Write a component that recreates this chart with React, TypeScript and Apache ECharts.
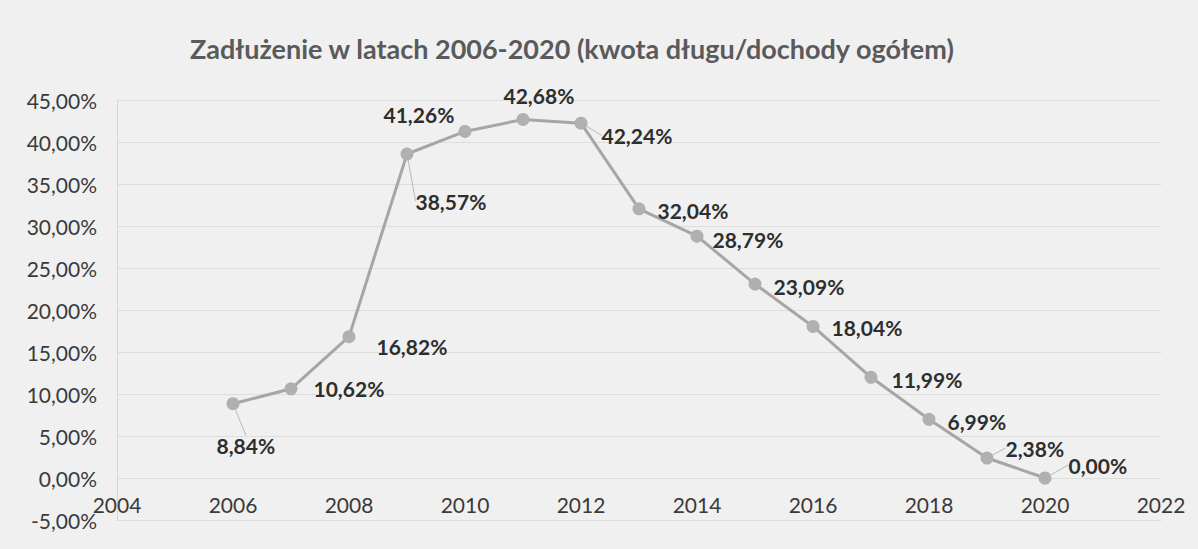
import React, { useEffect, useRef } from "react";
import * as echarts from "echarts";

const TITLE = "Zadłużenie w latach 2006-2020 (kwota długu/dochody ogółem)";
const YEARS = [2006, 2007, 2008, 2009, 2010, 2011, 2012, 2013, 2014, 2015, 2016, 2017, 2018, 2019, 2020];
const DEBT_RATIO = [8.84, 10.62, 16.82, 38.57, 41.26, 42.68, 42.24, 32.04, 28.79, 23.09, 18.04, 11.99, 6.99, 2.38, 0.0];
const LABEL_SHIFTS: [number, number][] = [
  [-35, 42], [4, 0], [9, 10], [-10, 47], [-100, -17], [-38, -24], [2, 12],
  [0, 2], [-3, 3], [0, 2], [0, 1], [2, 2], [0, 2], [0, -10], [5, -13],
];
const LEADER_LINES = [true, false, false, true, false, false, true, false, false, false, false, false, false, true, true];
const X_MIN = 2004;
const X_MAX = 2022;
const Y_MIN = -5;
const Y_MAX = 45;

const fmtPct = (v: number) => v.toFixed(2).replace(".", ",") + "%";

export default function App() {
  const ref = useRef<HTMLDivElement>(null);
  useEffect(() => {
    document.body.style.margin = "0";
    if (!ref.current) return;
    const chart = echarts.init(ref.current, undefined, { renderer: "svg" });
    const font = "Lato, 'Open Sans', sans-serif";
    chart.setOption({
      animation: false,
      backgroundColor: "#f0f0f0",
      title: {
        text: TITLE,
        left: 185,
        top: 30,
        textStyle: { fontFamily: font, fontSize: 27, fontWeight: "bold", color: "#5a5a5a" },
      },
      grid: { left: 117, right: 37, top: 100, bottom: 29 },
      xAxis: {
        type: "value",
        min: X_MIN,
        max: X_MAX,
        interval: 2,
        offset: -42,
        axisLine: { show: false },
        axisTick: { show: false },
        splitLine: { show: false },
        axisLabel: { fontFamily: font, fontSize: 21, color: "#3a3a3a", margin: 16, formatter: (v: number) => String(v) },
      },
      yAxis: {
        type: "value",
        min: Y_MIN,
        max: Y_MAX,
        interval: 5,
        axisLine: { show: true, lineStyle: { color: "#d6d6d6", width: 1 } },
        axisTick: { show: false },
        splitLine: { show: true, lineStyle: { color: "#dddddd", width: 1 } },
        axisLabel: { fontFamily: font, fontSize: 21, color: "#3a3a3a", margin: 20, formatter: (v: number) => fmtPct(v) },
      },
      series: [
        {
          type: "line",
          data: YEARS.map((y, i) => ({
            value: [y, DEBT_RATIO[i]],
            labelLine: { show: LEADER_LINES[i] },
          })),
          symbol: "circle",
          symbolSize: 13,
          lineStyle: { color: "#a6a6a6", width: 3 },
          itemStyle: { color: "#b0b0b0" },
          label: {
            show: true,
            position: "right",
            distance: 12,
            fontFamily: font,
            fontSize: 21,
            fontWeight: "bold",
            color: "#2e2e2e",
            formatter: (p: any) => fmtPct(p.value[1]),
          },
          labelLine: { show: false, lineStyle: { color: "#b8b8b8", width: 1 } },
          labelLayout: (p: any) => {
            const s = LABEL_SHIFTS[p.dataIndex];
            return { dx: s[0], dy: s[1] };
          },
        },
      ],
    });
    return () => chart.dispose();
  }, []);
  return <div ref={ref} style={{ width: 1198, height: 549 }} />;
}
